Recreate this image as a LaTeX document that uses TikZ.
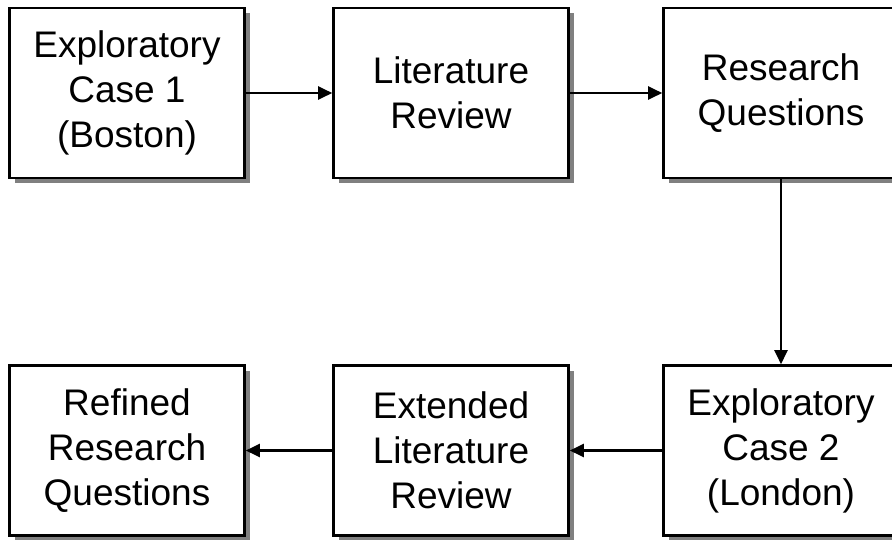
\documentclass[tikz,border=0pt]{standalone}
\usepackage{fontspec}
\setmainfont{Liberation Sans}
\usetikzlibrary{arrows.meta,shadows}
\tikzset{
  stagebox/.style={draw=black, line width=2.6pt, fill=white,
    minimum width=235pt, minimum height=170pt, inner sep=0pt,
    align=center, font=\fontsize{37}{45}\selectfont,
    general shadow={fill=black!50, shadow xshift=5pt, shadow yshift=-5pt}},
  flow/.style={draw=black, line width=2.2pt,
    -{Triangle[length=14pt,width=13pt]}}
}
\begin{document}
\begin{tikzpicture}[x=1pt,y=-1pt]
\useasboundingbox (0,0) rectangle (892,539);
\clip (0,0) rectangle (892,539);
% top row
\node[stagebox] (case1) at (127,93) {Exploratory\\Case 1\\(Boston)};
\node[stagebox] (lit)   at (451,93) {Literature\\Review};
\node[stagebox] (rq)    at (781,93) {Research\\Questions};
% bottom row
\node[stagebox] (case2) at (781,450.5) {Exploratory\\Case 2\\(London)};
\node[stagebox] (elit)  at (451,450.5) {Extended\\Literature\\Review};
\node[stagebox] (rrq)   at (127,450.5) {Refined\\Research\\Questions};
% connectors
\draw[flow] (case1) -- (lit);
\draw[flow] (lit) -- (rq);
\draw[flow] (rq) -- (case2);
\draw[flow] (case2) -- (elit);
\draw[flow] (elit) -- (rrq);
\end{tikzpicture}
\end{document}
